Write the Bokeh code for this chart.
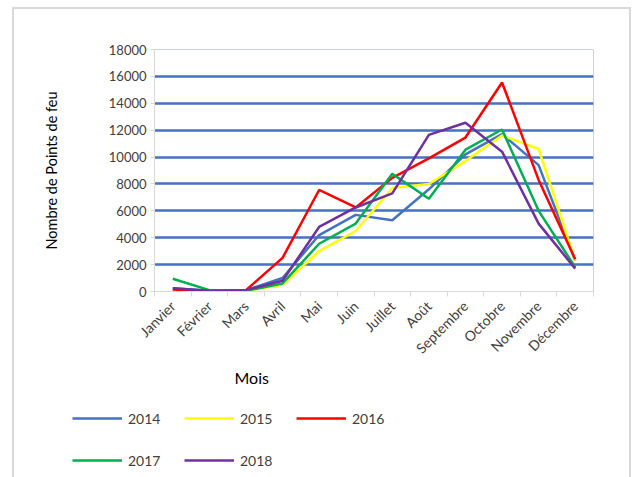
from bokeh.plotting import figure
from bokeh.layouts import column
from bokeh.models import (FixedTicker, Legend, LegendItem, Title, Range1d)
from bokeh.embed import file_html
from bokeh.resources import INLINE

months = ["Janvier", "Février", "Mars", "Avril", "Mai", "Juin", "Juillet",
          "Août", "Septembre", "Octobre", "Novembre", "Décembre"]
s2014 = [250, 50, 100, 1000, 4200, 5700, 5300, 7600, 10200, 11700, 9400, 2300]
s2015 = [100, 0, 50, 500, 3000, 4500, 7700, 8000, 9700, 11600, 10600, 2300]
s2016 = [150, 0, 100, 2500, 7550, 6250, 8450, 9900, 11450, 15550, 8300, 2400]
s2017 = [950, 100, 50, 600, 3550, 5050, 8750, 6900, 10550, 12050, 6000, 1800]
s2018 = [250, 50, 100, 800, 4800, 6250, 7300, 11650, 12550, 10400, 5050, 1700]
series = [("2014", s2014, "#4472C4"), ("2015", s2015, "#FFFF00"),
          ("2016", s2016, "#FF0000"), ("2017", s2017, "#00B050"),
          ("2018", s2018, "#7030A0")]
y_ticks = list(range(0, 18001, 2000))

FONT = "Lato"
x = [i + 0.5 for i in range(len(months))]

p = figure(width=615, height=381, output_backend="svg", toolbar_location=None,
           x_range=Range1d(0, len(months)), y_range=Range1d(0, 18000),
           min_border_left=140, min_border_top=40, min_border_right=36,
           min_border_bottom=99)
p.outline_line_color = "#c5d3ec"
p.outline_line_width = 1

# grid
p.xgrid.visible = False
p.ygrid.ticker = FixedTicker(ticks=y_ticks[1:-1])
p.ygrid.grid_line_color = "#4472C4"
p.ygrid.grid_line_width = 2.5

# y axis
p.yaxis.ticker = FixedTicker(ticks=y_ticks)
p.yaxis.axis_line_color = "#d9d9d9"
p.yaxis.major_tick_line_color = "#d9d9d9"
p.yaxis.major_tick_in = 0
p.yaxis.major_tick_out = 4
p.yaxis.minor_tick_line_color = None
p.yaxis.major_label_text_font = FONT
p.yaxis.major_label_text_font_size = "13px"
p.yaxis.major_label_text_color = "#404040"
p.yaxis.major_label_standoff = 4
p.yaxis.axis_label = "Nombre de Points de feu"
p.yaxis.axis_label_text_font = FONT
p.yaxis.axis_label_text_font_style = "normal"
p.yaxis.axis_label_text_font_size = "14.5px"
p.yaxis.axis_label_text_color = "#000000"
p.yaxis.axis_label_standoff = 46

# x axis
p.xaxis.ticker = FixedTicker(ticks=x, minor_ticks=list(range(len(months) + 1)))
p.xaxis.major_label_overrides = {xi: m for xi, m in zip(x, months)}
p.xaxis.axis_line_color = "#d9d9d9"
p.xaxis.major_tick_line_color = None
p.xaxis.minor_tick_line_color = "#d9d9d9"
p.xaxis.minor_tick_in = 0
p.xaxis.minor_tick_out = 5
p.xaxis.major_label_orientation = 0.785
p.xaxis.major_label_text_font = FONT
p.xaxis.major_label_text_font_size = "14px"
p.xaxis.major_label_text_color = "#404040"
p.xaxis.major_label_standoff = 6

for name, vals, col in series:
    p.line(x, vals, line_color=col, line_width=2.5)

p.add_layout(Title(text="Mois", align="left", offset=80, standoff=1,
                   text_font=FONT, text_font_size="16px",
                   text_font_style="normal", text_color="#000000"), "below")

# legend panel (its series lines lie outside its own view; only the legend shows)
q = figure(width=615, height=87, output_backend="svg", toolbar_location=None,
           x_axis_location=None, y_axis_location=None,
           x_range=Range1d(100, 101), y_range=Range1d(100000, 100001),
           min_border_left=0, min_border_right=0, min_border_top=0,
           min_border_bottom=0)
q.outline_line_color = None
q.grid.visible = False
for fig in (p, q):
    if "frame_align" in fig.properties():
        fig.frame_align = False

items = []
for name, vals, col in series:
    r = q.line(x, vals, line_color=col, line_width=2.5)
    items.append(LegendItem(label=name, renderers=[r]))

legend = Legend(items=items, orientation="horizontal", ncols=3,
                location=(58, 7), glyph_width=50, glyph_height=20,
                label_height=20, label_width=34, label_standoff=6, spacing=22,
                padding=0, margin=0,
                label_text_font=FONT, label_text_font_size="14px",
                label_text_color="#404040",
                border_line_alpha=0, background_fill_alpha=0)
q.add_layout(legend, "center")

layout = column(p, q, spacing=0,
                styles={"border-left": "2px solid #d9d9d9",
                        "border-right": "2px solid #d9d9d9",
                        "border-top": "2px solid #d9d9d9",
                        "margin-left": "12px", "margin-top": "7px"})

open("out.html", "w").write(file_html(layout, INLINE))
